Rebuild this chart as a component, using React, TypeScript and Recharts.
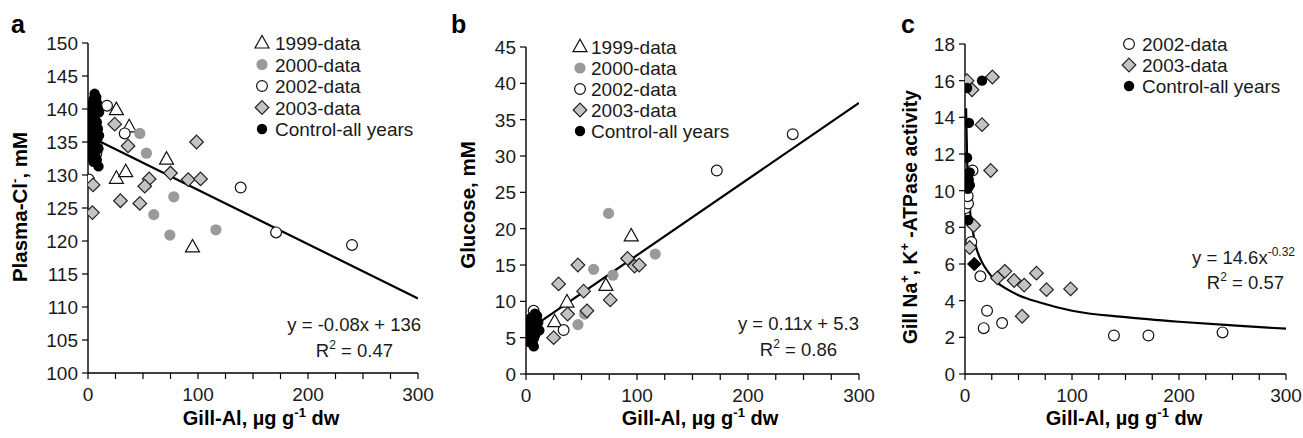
import React from 'react';
import { ComposedChart, Scatter, Line, XAxis, YAxis, Customized } from 'recharts';

// ---------- Panel a: Plasma-Cl- ----------
const a1999 = [{x:25.8,y:139.9},{x:37.4,y:137.3},{x:71.4,y:132.4},{x:25.8,y:129.5},{x:34.3,y:130.5},{x:95,y:119.1},{x:1,y:138}];
const a2000 = [{x:47.1,y:136.3},{x:53.1,y:133.3},{x:59.8,y:124.0},{x:74.4,y:120.9},{x:78,y:126.7},{x:116.3,y:121.7}];
const a2002 = [{x:17.3,y:140.5},{x:33.4,y:136.3},{x:0.9,y:129.3},{x:138.8,y:128.1},{x:171,y:121.3},{x:240,y:119.4},{x:7.6,y:133.3},{x:8,y:134.3}];
const a2003 = [{x:24.3,y:137.7},{x:36.4,y:134.4},{x:98.7,y:135.0},{x:75,y:130.3},{x:91.1,y:129.3},{x:102.3,y:129.4},{x:55.6,y:129.4},{x:51.6,y:128.3},{x:29.5,y:126.1},{x:47.1,y:125.7},{x:4.6,y:128.5},{x:4,y:124.3}];
const aCtrl = [{x:6,y:142.3},{x:7.5,y:141.8},{x:5,y:141.5},{x:8,y:141},{x:4,y:140.8},{x:6.5,y:140.5},{x:3,y:140.2},{x:9,y:140},{x:5.5,y:139.8},{x:2.5,y:139.5},{x:7,y:139.3},{x:10,y:139.5},{x:4,y:139},{x:1.5,y:138.7},{x:6,y:138.5},{x:3,y:138.2},{x:8,y:138},{x:5,y:137.8},{x:2,y:137.5},{x:6.5,y:137.2},{x:4,y:137},{x:1,y:136.8},{x:7.5,y:136.5},{x:3,y:136.3},{x:5.5,y:136},{x:2,y:135.7},{x:8.5,y:135.5},{x:4.5,y:135.2},{x:1.5,y:135},{x:6,y:134.8},{x:3,y:134.5},{x:7,y:134.2},{x:2,y:134},{x:5,y:133.7},{x:4,y:133.3},{x:6.5,y:133},{x:3.5,y:132.7},{x:8,y:132.3},{x:5,y:132},{x:9.5,y:131.3},{x:1,y:133.5},{x:0.5,y:136},{x:9,y:137},{x:10,y:136},{x:9.5,y:134}];
const aTrend = [{x:8,y:135.3},{x:300,y:111.3}];
const aYTicks = [100,105,110,115,120,125,130,135,140,145,150];

// ---------- Panel b: Glucose ----------
const b1999 = [{x:94.8,y:19.0},{x:72,y:12.2},{x:36.9,y:9.9},{x:25.8,y:7.2}];
const b2000 = [{x:74.4,y:22.1},{x:60.9,y:14.4},{x:78.3,y:13.6},{x:116.4,y:16.5},{x:46.8,y:6.8},{x:52.8,y:8.25}];
const b2002 = [{x:240.3,y:33.0},{x:171.9,y:28.0},{x:33.9,y:6.05},{x:6.9,y:8.7}];
const b2003 = [{x:29.4,y:12.4},{x:46.8,y:15.0},{x:51.9,y:11.4},{x:54.9,y:8.7},{x:37.5,y:8.25},{x:75.9,y:10.2},{x:91.5,y:15.9},{x:97.8,y:14.85},{x:102,y:15.0},{x:24.9,y:5.0}];
const bCtrl = [{x:8,y:8.3},{x:10,y:8},{x:6,y:7.9},{x:9,y:7.6},{x:4,y:7.4},{x:7,y:7.3},{x:11,y:7.1},{x:3,y:7},{x:5,y:6.9},{x:8,y:6.8},{x:2,y:6.6},{x:6,y:6.5},{x:10,y:6.4},{x:1,y:6.3},{x:4,y:6.2},{x:7,y:6.1},{x:12,y:6},{x:3,y:5.9},{x:5,y:5.8},{x:9,y:5.7},{x:1.5,y:5.5},{x:6,y:5.4},{x:8,y:5.3},{x:2.5,y:5.1},{x:4,y:5},{x:7,y:4.9},{x:1,y:4.7},{x:5,y:4.6},{x:3,y:4.4},{x:6,y:4.2},{x:7,y:3.8},{x:0.5,y:5.9},{x:2,y:6.9},{x:9.5,y:6.6},{x:4.5,y:7.7}];
const bTrend = [{x:7,y:6.6},{x:300,y:37.3}];
const bYTicks = [0,5,10,15,20,25,30,35,40,45];

// ---------- Panel c: Gill Na+,K+-ATPase ----------
const c2002 = [{x:139.2,y:2.1},{x:171.4,y:2.1},{x:240.7,y:2.27},{x:17.5,y:2.5},{x:20.6,y:3.45},{x:34.7,y:2.78},{x:14.4,y:5.33},{x:0.6,y:9.05},{x:2.8,y:9.3},{x:2.5,y:9.7},{x:5.9,y:7.2},{x:7,y:11.1}];
const c2003 = [{x:25.6,y:16.2},{x:1.9,y:16.0},{x:6.6,y:15.5},{x:15.9,y:13.6},{x:24,y:11.1},{x:4.4,y:6.9},{x:8.1,y:8.1},{x:30.3,y:5.24},{x:37.2,y:5.6},{x:45.9,y:5.1},{x:55.3,y:4.85},{x:66.8,y:5.5},{x:76.2,y:4.6},{x:98.7,y:4.64},{x:53.4,y:3.15}];
const cCtrl = [{x:15.9,y:16.0},{x:1.9,y:15.6},{x:3.7,y:13.7},{x:1.9,y:11.8},{x:4.4,y:11.0},{x:2,y:10.8},{x:3.5,y:10.6},{x:1.5,y:10.4},{x:4.5,y:10.3},{x:2.5,y:10.1},{x:3.1,y:8.4},{x:1,y:10.9}];
const cCtrlDiamond = [{x:8.7,y:6.0}];
const cTrend = [{x:1,y:14.5},{x:2,y:11.7},{x:3,y:10.3},{x:5,y:8.7},{x:7,y:7.9},{x:10,y:7.0},{x:15,y:6.2},{x:20,y:5.7},{x:30,y:5.0},{x:40,y:4.6},{x:50,y:4.3},{x:70,y:3.9},{x:100,y:3.45},{x:150,y:3.1},{x:200,y:2.85},{x:250,y:2.65},{x:300,y:2.47}];
const cYTicks = [0,2,4,6,8,10,12,14,16,18];

const xTicks = [0,25,50,75,100,125,150,175,200,225,250,275,300];
const xLabelTicks = [0,100,200,300];

const FONT = 'Liberation Sans, Arial, Helvetica, sans-serif';
const TXT = '#1a1a1a';

const Tri = (p: any) => { const {cx, cy} = p; if (cx == null) return null; return <polygon points={`${cx},${cy-7.5} ${cx-7},${cy+5} ${cx+7},${cy+5}`} fill="#fff" stroke="#111" strokeWidth={1.2} />; };
const GrayDot = (p: any) => { const {cx, cy} = p; if (cx == null) return null; return <circle cx={cx} cy={cy} r={5.6} fill="#9a9a9a" />; };
const OpenDot = (p: any) => { const {cx, cy} = p; if (cx == null) return null; return <circle cx={cx} cy={cy} r={5.4} fill="#fff" stroke="#111" strokeWidth={1.2} />; };
const Dia = (p: any) => { const {cx, cy} = p; if (cx == null) return null; return <polygon points={`${cx},${cy-6.8} ${cx+6.8},${cy} ${cx},${cy+6.8} ${cx-6.8},${cy}`} fill="#c3c3c3" stroke="#222" strokeWidth={1.2} />; };
const BlackDot = (p: any) => { const {cx, cy} = p; if (cx == null) return null; return <circle cx={cx} cy={cy} r={5.2} fill="#000" />; };
const BlackDia = (p: any) => { const {cx, cy} = p; if (cx == null) return null; return <polygon points={`${cx},${cy-6.8} ${cx+6.8},${cy} ${cx},${cy+6.8} ${cx-6.8},${cy}`} fill="#000" stroke="#000" strokeWidth={1} />; };

const symbolFor: Record<string, (p: any) => any> = { tri: Tri, gray: GrayDot, open: OpenDot, dia: Dia, black: BlackDot };

const XTick = (props: any) => {
  const { x, y, payload } = props;
  if (!xLabelTicks.includes(payload.value)) return null;
  return <text x={x} y={y + 20} textAnchor="middle" fontSize={19} fontFamily={FONT} fill={TXT}>{payload.value}</text>;
};
const YTick = (props: any) => {
  const { x, y, payload } = props;
  return <text x={x} y={y + 7} textAnchor="end" fontSize={19} fontFamily={FONT} fill={TXT}>{payload.value}</text>;
};

type Legend = { key: string; label: string };

function Overlay({ letter, letterX, yTitle, yTitleX, yTitleY, yTitleSize, xTitleX, legend, legSymX, legTextX, legRows, eq1, eq1X, eq1Y, eq2, eq2X, eq2Y }: any) {
  return (
    <g fontFamily={FONT}>
      <text x={letterX} y={33} fontSize={25} fontWeight="bold" fill="#000">{letter}</text>
      <text transform={`translate(${yTitleX},${yTitleY}) rotate(-90)`} textAnchor="middle" fontSize={yTitleSize} fontWeight="bold" fill="#000" dy={7}>{yTitle}</text>
      <text x={xTitleX} y={425} textAnchor="middle" fontSize={20} fontWeight="bold" fill="#000">
        Gill-Al, µg g<tspan dy={-8} fontSize={13}>-1</tspan><tspan dy={8}> dw</tspan>
      </text>
      {legend.map((l: Legend, i: number) => {
        const Sym = symbolFor[l.key];
        const cy = legRows[i];
        return (
          <g key={l.label}>
            <Sym cx={legSymX} cy={cy} />
            <text x={legTextX} y={cy + 7} fontSize={19} fill={TXT}>{l.label}</text>
          </g>
        );
      })}
      <text x={eq1X} y={eq1Y} textAnchor="end" fontSize={18.5} fill={TXT}>{eq1}</text>
      <text x={eq2X} y={eq2Y} textAnchor="end" fontSize={18.5} fill={TXT}>R<tspan dy={-8} fontSize={12}>2</tspan><tspan dy={8}> = {eq2}</tspan></text>
    </g>
  );
}

function Panel({ left, width, margin, yDomain, yTicks, series, trend, trendType, overlay }: any) {
  return (
    <div style={{ position: 'absolute', left, top: 0, width, height: 438 }}>
      <ComposedChart width={width} height={438} margin={margin}>
        <XAxis type="number" dataKey="x" domain={[0, 300]} ticks={xTicks} interval={0} tick={<XTick />} tickSize={6} height={30}
          axisLine={{ stroke: '#000', strokeWidth: 1.4 }} tickLine={{ stroke: '#000', strokeWidth: 1.2 }} allowDataOverflow />
        <YAxis type="number" dataKey="y" domain={yDomain} ticks={yTicks} interval={0} tick={<YTick />} tickSize={6} tickMargin={4} width={60}
          axisLine={{ stroke: '#000', strokeWidth: 1.4 }} tickLine={{ stroke: '#000', strokeWidth: 1.2 }} allowDataOverflow />
        {series.map((s: any, i: number) => (
          <Scatter key={i} data={s.data} shape={s.shape} isAnimationActive={false} />
        ))}
        <Line data={trend} dataKey="y" type={trendType} stroke="#000" strokeWidth={2.2} dot={false} isAnimationActive={false} />
        <Customized component={() => overlay} />
      </ComposedChart>
    </div>
  );
}

export default function App() {
  return (
    <div style={{ position: 'absolute', left: 0, top: 0, width: 1303, height: 438, background: '#fff', overflow: 'hidden' }}>
      <Panel left={0} width={440} margin={{ top: 43, right: 22, left: 28, bottom: 35 }} yDomain={[100, 150]} yTicks={aYTicks}
        series={[{ data: a1999, shape: Tri }, { data: a2000, shape: GrayDot }, { data: a2002, shape: OpenDot }, { data: a2003, shape: Dia }, { data: aCtrl, shape: BlackDot }]}
        trend={aTrend} trendType="linear"
        overlay={<Overlay letter="a" letterX={11} yTitle={<>Plasma-Cl<tspan dy={-8} fontSize={13}>-</tspan><tspan dy={8}>, mM</tspan></>} yTitleX={20} yTitleY={207} yTitleSize={20.5} xTitleX={261}
          legend={[{ key: 'tri', label: '1999-data' }, { key: 'gray', label: '2000-data' }, { key: 'open', label: '2002-data' }, { key: 'dia', label: '2003-data' }, { key: 'black', label: 'Control-all years' }]}
          legSymX={262} legTextX={275} legRows={[43, 64.5, 86, 107.5, 129]}
          eq1="y = -0.08x + 136" eq1X={421} eq1Y={331} eq2="0.47" eq2X={393} eq2Y={357} />} />
      <Panel left={430} width={465} margin={{ top: 47, right: 36, left: 36, bottom: 34 }} yDomain={[0, 45]} yTicks={bYTicks}
        series={[{ data: b1999, shape: Tri }, { data: b2000, shape: GrayDot }, { data: b2002, shape: OpenDot }, { data: b2003, shape: Dia }, { data: bCtrl, shape: BlackDot }]}
        trend={bTrend} trendType="linear"
        overlay={<Overlay letter="b" letterX={21} yTitle="Glucose, mM" yTitleX={38} yTitleY={205} yTitleSize={20.5} xTitleX={270}
          legend={[{ key: 'tri', label: '1999-data' }, { key: 'gray', label: '2000-data' }, { key: 'open', label: '2002-data' }, { key: 'dia', label: '2003-data' }, { key: 'black', label: 'Control-all years' }]}
          legSymX={150} legTextX={161} legRows={[46.7, 68, 89, 110, 131]}
          eq1="y = 0.11x + 5.3" eq1X={429} eq1Y={330} eq2="0.86" eq2X={407} eq2Y={356} />} />
      <Panel left={860} width={443} margin={{ top: 44, right: 17, left: 45, bottom: 34 }} yDomain={[0, 18]} yTicks={cYTicks}
        series={[{ data: c2002, shape: OpenDot }, { data: c2003, shape: Dia }, { data: cCtrl, shape: BlackDot }, { data: cCtrlDiamond, shape: BlackDia }]}
        trend={cTrend} trendType="monotone"
        overlay={<Overlay letter="c" letterX={41} yTitle={<>Gill Na<tspan dy={-8} fontSize={13}>+</tspan><tspan dy={8}>, K</tspan><tspan dy={-8} fontSize={13}>+</tspan><tspan dy={8}> -ATPase activity</tspan></>} yTitleX={50} yTitleY={217} yTitleSize={19.3} xTitleX={264}
          legend={[{ key: 'open', label: '2002-data' }, { key: 'dia', label: '2003-data' }, { key: 'black', label: 'Control-all years' }]}
          legSymX={269} legTextX={282} legRows={[44, 65, 86]}
          eq1={<>y = 14.6x<tspan dy={-8} fontSize={12}>-0.32</tspan></>} eq1X={435} eq1Y={264} eq2="0.57" eq2X={424} eq2Y={289} />} />
    </div>
  );
}
